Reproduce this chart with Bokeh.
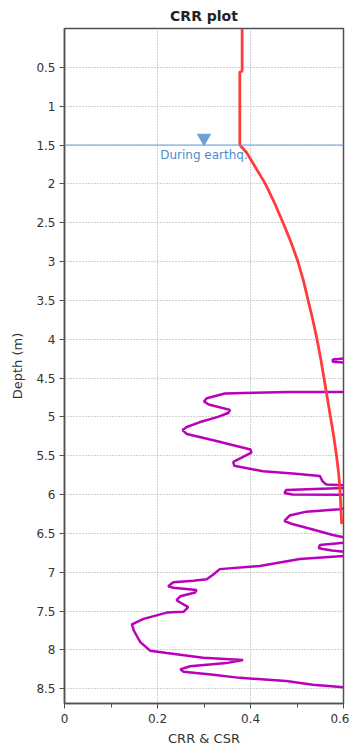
from bokeh.plotting import figure
from bokeh.models import Range1d, FixedTicker, Span
from bokeh.embed import file_html
from bokeh.resources import INLINE

# ---- data ----
crr_value = [0.382, 0.382, 0.377, 0.377, 0.392, 0.407, 0.432, 0.452, 0.470, 0.487,
             0.502, 0.514, 0.524, 0.534, 0.543, 0.551, 0.558, 0.565, 0.572, 0.579,
             0.585, 0.590, 0.593, 0.596]
crr_depth = [0.0, 0.55, 0.56, 1.50, 1.60, 1.75, 2.00, 2.25, 2.50, 2.75,
             3.00, 3.25, 3.50, 3.75, 4.00, 4.25, 4.50, 4.75, 5.00, 5.25,
             5.50, 5.75, 6.00, 6.38]

csr_value = [0.66, 0.60, 0.577, 0.577, 0.60, 0.68, 0.70, 0.66,
             0.60, 0.484, 0.406, 0.345, 0.306, 0.300, 0.310, 0.356, 0.352, 0.330, 0.290,
             0.263, 0.254, 0.263, 0.320, 0.400, 0.402, 0.363, 0.365, 0.427, 0.491, 0.549,
             0.555, 0.563, 0.630, 0.600, 0.477, 0.473, 0.490, 0.630, 0.660, 0.600, 0.591,
             0.520, 0.484, 0.473, 0.490, 0.534, 0.577, 0.600, 0.630, 0.600, 0.549, 0.547,
             0.575, 0.610, 0.630, 0.600, 0.506, 0.420, 0.334, 0.320, 0.306, 0.277, 0.234,
             0.223, 0.234, 0.284, 0.281, 0.249, 0.241, 0.249, 0.266, 0.256, 0.220, 0.170,
             0.145, 0.149, 0.163, 0.184, 0.220, 0.298, 0.384, 0.348, 0.270, 0.249, 0.256,
             0.320, 0.377, 0.477, 0.534, 0.600, 0.650]
csr_depth = [4.22, 4.25, 4.26, 4.29, 4.30, 4.36, 4.50, 4.66,
             4.68, 4.68, 4.69, 4.70, 4.76, 4.80, 4.84, 4.91, 4.95, 5.00, 5.07,
             5.13, 5.17, 5.22, 5.30, 5.42, 5.46, 5.58, 5.63, 5.70, 5.73, 5.76,
             5.83, 5.87, 5.89, 5.915, 5.94, 5.98, 6.00, 6.005, 6.10, 6.18, 6.19,
             6.22, 6.27, 6.34, 6.38, 6.45, 6.52, 6.55, 6.58, 6.62, 6.65, 6.69,
             6.72, 6.74, 6.77, 6.79, 6.83, 6.92, 6.96, 7.03, 7.09, 7.11, 7.13,
             7.18, 7.20, 7.23, 7.26, 7.31, 7.36, 7.39, 7.45, 7.51, 7.52, 7.60,
             7.67, 7.75, 7.90, 8.01, 8.04, 8.10, 8.13, 8.17, 8.21, 8.25, 8.28,
             8.32, 8.36, 8.40, 8.45, 8.48, 8.49]

water_depth = 1.5
water_marker_x = 0.3
water_label = "During earthq."

x_ticks = [0, 0.2, 0.4, 0.6]
x_minor = [0.1, 0.3, 0.5]
y_ticks = [0.5, 1, 1.5, 2, 2.5, 3, 3.5, 4, 4.5, 5, 5.5, 6, 6.5, 7, 7.5, 8, 8.5]

FONT = "DejaVu Sans"
AX = "#505050"

p = figure(width=349, height=752, output_backend="svg", toolbar_location=None,
           x_range=Range1d(0, 0.6), y_range=Range1d(8.69, 0.0),
           title="CRR plot", min_border_left=64, min_border_right=6,
           min_border_top=28, min_border_bottom=49)

p.title.align = "center"
p.title.text_font = FONT
p.title.text_font_size = "14px"
p.title.text_font_style = "bold"
p.title.text_color = "#222222"
p.title.standoff = 9
p.title.offset = 0

p.outline_line_color = AX
p.outline_line_width = 1.5
p.background_fill_color = "white"

for ax in (p.xaxis[0], p.yaxis[0]):
    ax.axis_line_color = AX
    ax.axis_line_width = 1.5
    ax.major_tick_line_color = AX
    ax.minor_tick_line_color = AX
    ax.major_tick_in = 0
    ax.major_tick_out = 5
    ax.minor_tick_in = 0
    ax.minor_tick_out = 4
    ax.major_label_text_font = FONT
    ax.major_label_text_font_size = "12px"
    ax.major_label_text_color = "#333333"
    ax.axis_label_text_font = FONT
    ax.axis_label_text_font_size = "13px"
    ax.axis_label_text_font_style = "normal"
    ax.axis_label_text_color = "#333333"

p.xaxis.ticker = FixedTicker(ticks=x_ticks, minor_ticks=x_minor)
p.yaxis.ticker = FixedTicker(ticks=y_ticks, minor_ticks=[])
p.xaxis.axis_label = "CRR & CSR"
p.yaxis.axis_label = "Depth (m)"
p.xaxis.major_label_standoff = 5
p.yaxis.major_label_standoff = 4
p.xaxis.axis_label_standoff = 5
p.yaxis.axis_label_standoff = 8

for g in (p.xgrid[0], p.ygrid[0]):
    g.grid_line_color = "#a0a0a0"
    g.grid_line_dash = "1 2"
    g.grid_line_width = 1

# water table
p.add_layout(Span(location=water_depth, dimension="width", line_color="#6a9fd8", line_width=1))
p.scatter([water_marker_x], [water_depth - 0.09], marker="inverted_triangle", size=13,
          fill_color="#6a9fd8", line_color="#6a9fd8")
p.text([water_marker_x], [water_depth], text=[water_label], text_align="center",
       text_baseline="top", y_offset=3, text_font_size="12px", text_color="#4f8ccc",
       text_font={"value": FONT})

# curves
p.line(csr_value, csr_depth, line_color="#bb00bb", line_width=2.5)
p.line(crr_value, crr_depth, line_color="#ff3b3b", line_width=2.8)

open("out.html", "w").write(file_html(p, INLINE))
